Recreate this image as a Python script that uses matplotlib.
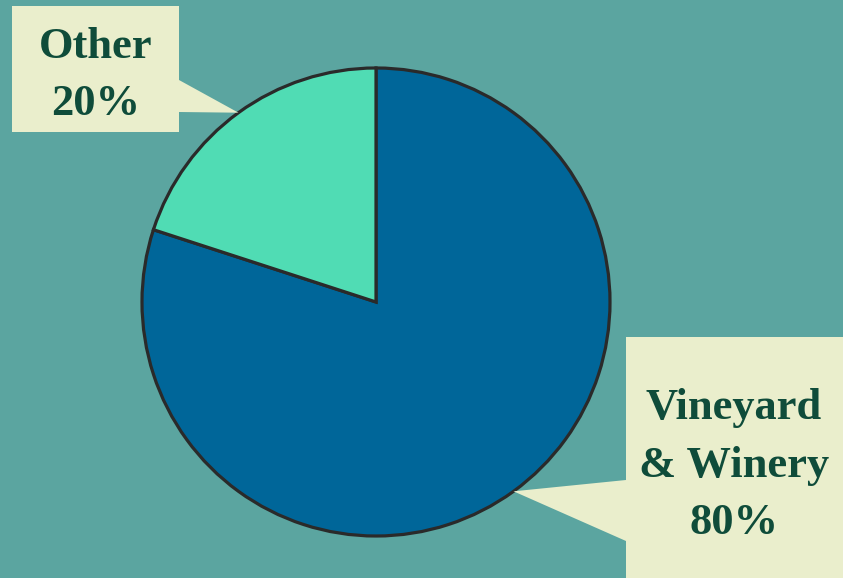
import numpy as np
import matplotlib
matplotlib.use("Agg")
import matplotlib.pyplot as plt
from matplotlib.patches import Polygon

# datos del gráfico
categorias = ["Vineyard\n& Winery", "Other"]
porcentajes = [80, 20]
colores = ["#006699", "#50dcb4"]

fondo = "#5ba5a0"
caja = "#eaeecc"
texto = "#0f4c3a"

W, H = 843, 578
fig = plt.figure(figsize=(W / 100, H / 100), dpi=100, facecolor=fondo)
ax = fig.add_axes([0, 0, 1, 1])
ax.set_xlim(0, W)
ax.set_ylim(0, H)
ax.set_aspect("equal")
ax.axis("off")

centro = (376, H - 302)
radio = 234
wedges, _ = ax.pie(porcentajes, colors=colores, startangle=90, counterclock=False,
                   center=centro, radius=radio, frame=True,
                   wedgeprops=dict(edgecolor="#2a2a2a", linewidth=2.3))
ax.set_xlim(0, W)
ax.set_ylim(0, H)
ax.axis("off")

def punta(w):
    th = np.deg2rad((w.theta1 + w.theta2) / 2)
    return (centro[0] + radio * np.cos(th), centro[1] + radio * np.sin(th))

def y(v):
    return H - v

# caja "Other" con flecha hacia su porción
tx, ty = punta(wedges[1])
poly = [(12, y(6)), (179, y(6)), (179, y(80)), (tx, ty), (179, y(112)),
        (179, y(132)), (12, y(132))]
ax.add_patch(Polygon(poly, closed=True, facecolor=caja, edgecolor="none", zorder=5))

# caja "Vineyard & Winery"
tx, ty = punta(wedges[0])
poly = [(626, y(337)), (W + 5, y(337)), (W + 5, -5), (626, -5), (626, y(541)),
        (tx, ty), (626, y(480))]
ax.add_patch(Polygon(poly, closed=True, facecolor=caja, edgecolor="none", zorder=5))

fuente = dict(family="Liberation Serif", weight="bold", size=32, color=texto,
              ha="center", va="baseline", zorder=6)

lineas_other = [categorias[1], f"{porcentajes[1]}%"]
for linea, base in zip(lineas_other, [58, 115]):
    ax.text(96, y(base), linea, **fuente)

lineas_vw = categorias[0].split("\n") + [f"{porcentajes[0]}%"]
for linea, base in zip(lineas_vw, [419, 477, 534]):
    ax.text(734, y(base), linea, **fuente)

fig.savefig("out.png", dpi=100, facecolor=fondo)
